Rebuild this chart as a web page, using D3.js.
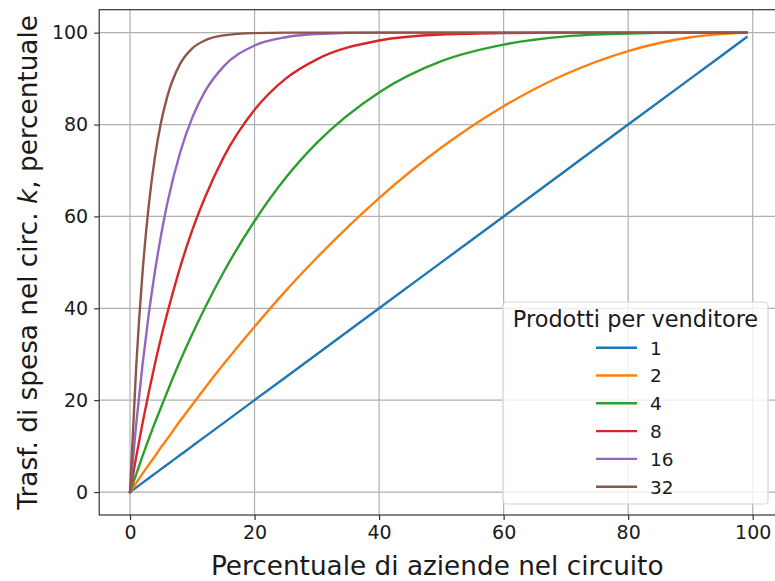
<!DOCTYPE html>
<html>
<head>
<meta charset="utf-8">
<script src="https://cdn.jsdelivr.net/npm/d3@7"></script>
<style>
  body { margin: 0; background: #fff; }
  text { font-family: "DejaVu Sans", sans-serif; fill: #1a1a1a; }
</style>
</head>
<body>
<svg id="chart" width="775" height="581"></svg>
<script>
// percentuale di aziende (x)
const xs = [0, 1, 2, 3, 4, 5, 6, 8, 10, 12, 15, 20, 25, 30, 40, 50, 60, 70, 80, 90, 99];
const k1  = [0, 1, 2, 3, 4, 5, 6, 8, 10, 12, 15, 20, 25, 30, 40, 50, 60, 70, 80, 90, 99];
const k2  = [0, 2.0, 4.0, 5.9, 7.8, 9.8, 11.6, 15.4, 19.0, 22.6, 27.8, 36.0, 43.8, 51.0, 64.0, 75.0, 84.0, 91.0, 96.0, 99.0, 100];
const k4  = [0, 3.9, 7.8, 11.5, 15.1, 18.5, 21.9, 28.4, 34.4, 40.0, 47.8, 59.0, 68.4, 76.0, 87.0, 93.8, 97.4, 99.2, 99.8, 100, 100];
const k8  = [0, 7.7, 14.9, 21.6, 27.9, 33.7, 39.0, 48.7, 57.0, 64.0, 72.8, 83.2, 90.0, 94.2, 98.3, 99.6, 99.9, 100, 100, 100, 100];
const k16 = [0, 14.9, 27.6, 38.6, 48.0, 56.0, 62.9, 73.7, 81.5, 87.1, 92.6, 97.2, 99.0, 99.7, 100, 100, 100, 100, 100, 100, 100];
const k32 = [0, 27.5, 47.6, 62.3, 72.9, 80.6, 86.2, 93.1, 96.6, 98.3, 99.4, 99.9, 100, 100, 100, 100, 100, 100, 100, 100, 100];

const seriesNames = ["1", "2", "4", "8", "16", "32"];
const seriesValues = [k1, k2, k4, k8, k16, k32];
const colors = ["#1f77b4", "#ff7f0e", "#2ca02c", "#d62728", "#9467bd", "#8c564b"];
const xTicks = [0, 20, 40, 60, 80, 100];
const yTicks = [0, 20, 40, 60, 80, 100];

const svg = d3.select("#chart");
const L = 99.2, R = 777.3, T = 9.7, B = 515;

const x = d3.scaleLinear().domain([-4.95, 103.95]).range([L, R]);
const y = d3.scaleLinear().domain([-5, 105]).range([B, T]);

svg.append("defs").append("clipPath").attr("id", "clip")
  .append("rect").attr("x", L).attr("y", T).attr("width", R - L).attr("height", B - T);

// grid
const grid = svg.append("g");
grid.selectAll(".gx").data(xTicks).enter().append("line")
  .attr("x1", d => x(d)).attr("x2", d => x(d)).attr("y1", T).attr("y2", B)
  .attr("stroke", "#b0b0b0").attr("stroke-width", 1.2);
grid.selectAll(".gy").data(yTicks).enter().append("line")
  .attr("y1", d => y(d)).attr("y2", d => y(d)).attr("x1", L).attr("x2", R)
  .attr("stroke", "#b0b0b0").attr("stroke-width", 1.2);

// curves
const line = d3.line()
  .x((d, i) => x(xs[i]))
  .y(d => y(d))
  .curve(d3.curveMonotoneX);

svg.append("g").attr("clip-path", "url(#clip)")
  .selectAll("path").data(seriesValues).enter().append("path")
  .attr("d", d => line(d))
  .attr("fill", "none")
  .attr("stroke", (d, i) => colors[i])
  .attr("stroke-width", 2.4)
  .attr("stroke-linejoin", "round")
  .attr("stroke-linecap", "square");

// axes
const xAxis = svg.append("g").attr("transform", "translate(0," + B + ")")
  .call(d3.axisBottom(x).tickValues(xTicks).tickSize(5).tickPadding(6));
const yAxis = svg.append("g").attr("transform", "translate(" + L + ",0)")
  .call(d3.axisLeft(y).tickValues(yTicks).tickSize(5).tickPadding(6));
[xAxis, yAxis].forEach(a => {
  a.select(".domain").remove();
  a.selectAll("line").attr("stroke", "#333").attr("stroke-width", 1.2);
  a.selectAll("text").style("font-size", "19px").style("font-family", "DejaVu Sans").attr("fill", "#1a1a1a");
});

// spines
svg.append("rect").attr("x", L).attr("y", T).attr("width", R - L).attr("height", B - T)
  .attr("fill", "none").attr("stroke", "#333").attr("stroke-width", 1.2);

// axis labels
svg.append("text").attr("x", (L + R) / 2 - 1).attr("y", 575)
  .attr("text-anchor", "middle").style("font-size", "26.3px")
  .text("Percentuale di aziende nel circuito");

const yl = svg.append("text")
  .attr("transform", "translate(37," + ((T + B) / 2) + ") rotate(-90)")
  .attr("text-anchor", "middle").style("font-size", "26.3px");
yl.append("tspan").text("Trasf. di spesa nel circ. ");
yl.append("tspan").attr("font-style", "italic").text("k");
yl.append("tspan").text(", percentuale");

// legend
const lg = svg.append("g");
lg.append("rect").attr("x", 503).attr("y", 302).attr("width", 265).attr("height", 202)
  .attr("rx", 4).attr("fill", "#fff").attr("fill-opacity", 0.8)
  .attr("stroke", "#d6d6d6").attr("stroke-width", 1.2);
lg.append("text").attr("x", 635.5).attr("y", 327).attr("text-anchor", "middle")
  .style("font-size", "22.4px").text("Prodotti per venditore");
const rows = lg.selectAll(".row").data(seriesNames).enter().append("g")
  .attr("transform", (d, i) => "translate(0," + (347.7 + i * 27.8) + ")");
rows.append("line").attr("x1", 596).attr("x2", 637).attr("y1", 0).attr("y2", 0)
  .attr("stroke", (d, i) => colors[i]).attr("stroke-width", 2.4);
rows.append("text").attr("x", 650).attr("y", 6.8).style("font-size", "18.5px").text(d => d);
</script>
</body>
</html>
